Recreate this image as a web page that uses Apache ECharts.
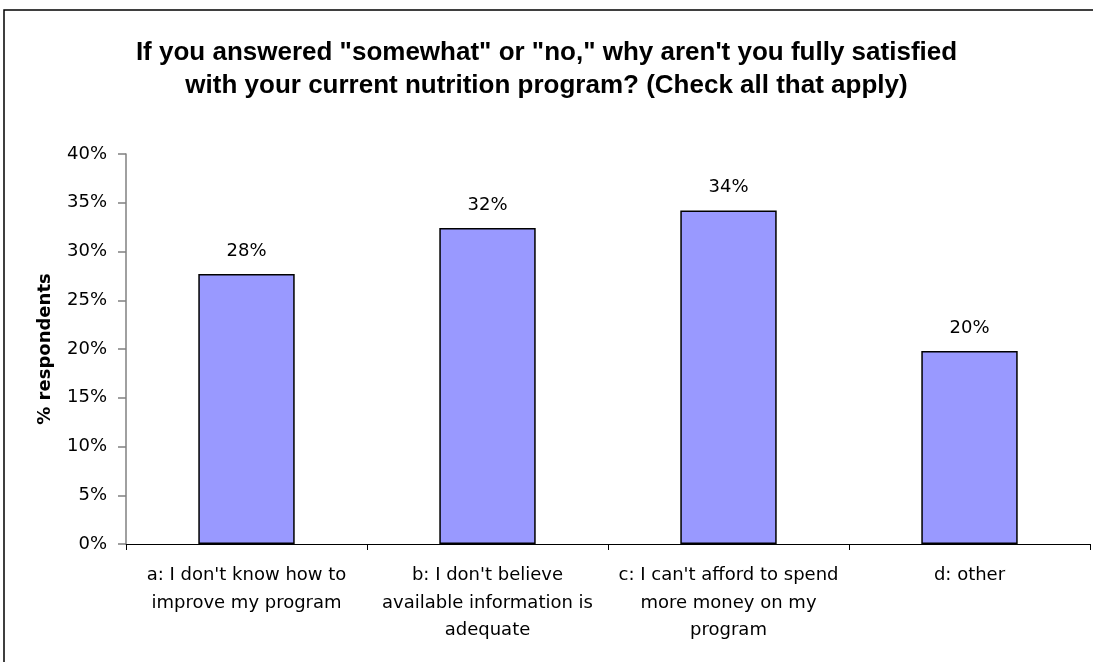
<!DOCTYPE html>
<html>
<head>
<meta charset="utf-8">
<script src="https://cdn.jsdelivr.net/npm/echarts@6/dist/echarts.min.js"></script>
<style>
html,body{margin:0;padding:0;background:#fff;}
#chart{width:1093px;height:662px;}
</style>
</head>
<body>
<div id="chart"></div>
<script>
const titleText = 'If you answered "somewhat" or "no," why aren\'t you fully satisfied\nwith your current nutrition program? (Check all that apply)';
const categories = [
  "a: I don't know how to\nimprove my program",
  "b: I don't believe\navailable information is\nadequate",
  "c: I can't afford to spend\nmore money on my\nprogram",
  "d: other"
];
const values = [27.7, 32.4, 34.2, 19.8];
const yTicks = [0, 5, 10, 15, 20, 25, 30, 35, 40];
const yAxisTitle = '% respondents';

const bodyFont = 'DejaVu Sans, Verdana, sans-serif';

const chart = echarts.init(document.getElementById('chart'));
chart.setOption({
  backgroundColor: '#fff',
  animation: false,
  title: {
    text: titleText,
    left: 'center',
    top: 31,
    textStyle: {
      fontFamily: 'Liberation Sans, Arial, sans-serif',
      fontWeight: 'bold',
      fontSize: 26,
      lineHeight: 33,
      color: '#000'
    }
  },
  graphic: [{
    type: 'rect',
    shape: {x: 4, y: 10, width: 1200, height: 700},
    style: {fill: 'none', stroke: '#000', lineWidth: 1.5},
    silent: true
  }],
  grid: {left: 126, right: 3, top: 154, bottom: 118},
  xAxis: {
    type: 'category',
    data: categories,
    axisLine: {lineStyle: {color: '#000', width: 1}},
    axisTick: {show: true, length: 6, alignWithLabel: false, lineStyle: {color: '#000'}},
    axisLabel: {
      interval: 0,
      margin: 18,
      fontFamily: bodyFont,
      fontSize: 18,
      lineHeight: 27.5,
      color: '#000'
    }
  },
  yAxis: {
    type: 'value',
    min: yTicks[0],
    max: yTicks[yTicks.length - 1],
    interval: 5,
    name: yAxisTitle,
    nameLocation: 'middle',
    nameGap: 72,
    nameTextStyle: {
      fontFamily: bodyFont,
      fontWeight: 'bold',
      fontSize: 18,
      color: '#000'
    },
    axisLine: {show: true, lineStyle: {color: '#808080', width: 1.5}},
    axisTick: {show: true, length: 8, lineStyle: {color: '#808080', width: 1.5}},
    splitLine: {show: false},
    axisLabel: {
      margin: 19,
      formatter: '{value}%',
      fontFamily: bodyFont,
      fontSize: 18,
      color: '#000'
    }
  },
  series: [{
    type: 'bar',
    data: values,
    barCategoryGap: '60%',
    itemStyle: {color: '#9999FF', borderColor: '#000', borderWidth: 1.5},
    label: {
      show: true,
      position: 'top',
      distance: 14,
      formatter: p => Math.round(p.value) + '%',
      fontFamily: bodyFont,
      fontSize: 18,
      color: '#000'
    }
  }]
});
</script>
</body>
</html>
